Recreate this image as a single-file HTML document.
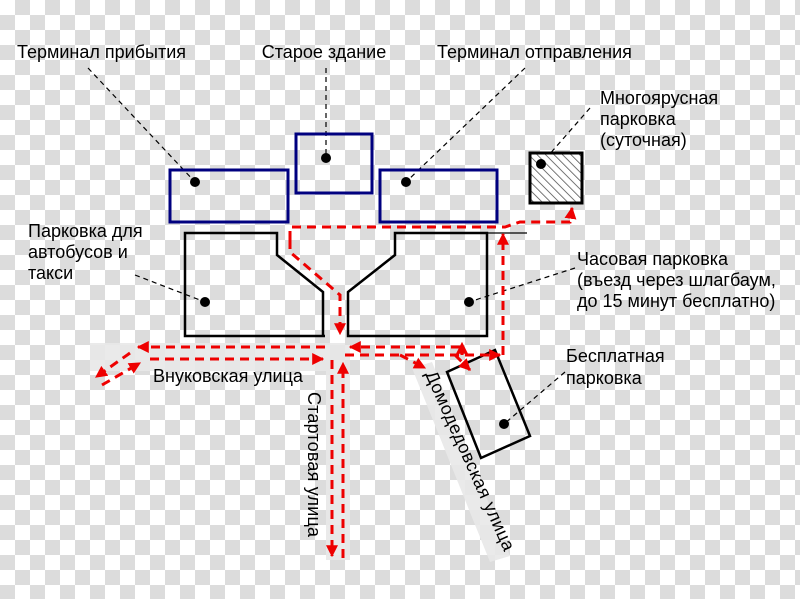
<!DOCTYPE html>
<html><head><meta charset="utf-8"><style>
html,body{margin:0;padding:0;width:800px;height:599px;overflow:hidden;}
svg{display:block;font-family:"Liberation Sans","DejaVu Sans",sans-serif;}
</style></head><body>
<svg width="800" height="599" viewBox="0 0 800 599" xmlns="http://www.w3.org/2000/svg">
<defs>
<pattern id="ck" width="30" height="30" patternUnits="userSpaceOnUse">
<rect width="30" height="30" fill="#fff"/>
<rect x="15" y="0" width="15" height="15" fill="#dcdcdc"/>
<rect x="0" y="15" width="15" height="15" fill="#dcdcdc"/>
</pattern>
<pattern id="hatch" width="6" height="6" patternUnits="userSpaceOnUse" patternTransform="rotate(-45)">
<rect width="6" height="6" fill="#fff"/>
<line x1="0" y1="0" x2="0" y2="6" stroke="#444" stroke-width="1.5"/>
</pattern>
<marker id="ar" viewBox="0 0 10 10" refX="9" refY="5" markerWidth="4" markerHeight="4" orient="auto"><path d="M0,0L10,5L0,10z" fill="#e00"/></marker>
</defs>
<rect width="800" height="599" fill="url(#ck)"/>
<g fill="#e8e8e8" opacity="0.9">
<rect x="90" y="343" width="255" height="28"/>
<rect x="326" y="345" width="24" height="215"/>
<polygon points="412,368 432,362 510,556 490,562"/>
</g>
<g stroke="#000" stroke-width="1.2" stroke-dasharray="5,4" fill="none">
<line x1="88" y1="68" x2="195" y2="182"/>
<line x1="326" y1="68" x2="326" y2="158"/>
<line x1="525" y1="68" x2="406" y2="182"/>
<line x1="590" y1="108" x2="541" y2="164"/>
<line x1="135" y1="275" x2="205" y2="302"/>
<line x1="575" y1="268" x2="469" y2="302"/>
<line x1="565" y1="372" x2="504" y2="424"/>
</g>
<g fill="none" stroke="#00007f" stroke-width="3">
<rect x="170" y="170" width="118" height="52"/>
<rect x="296" y="134" width="76" height="59"/>
<rect x="380" y="170" width="117" height="52"/>
</g>
<rect x="530" y="153" width="52" height="50" fill="url(#hatch)" stroke="#000" stroke-width="3"/>
<g fill="none" stroke="#000" stroke-width="2.5">
<path d="M325,336 L185,336 L185,233 L277,233 L277,255 L323,292 L323,336"/>
<path d="M348,336 L348,292 L395,255 L395,233 L487,233 L487,336 Z"/>
<polygon points="447,372 495,350 530,436 481,458"/>
</g>
<line x1="487" y1="233" x2="527" y2="233" stroke="#000" stroke-width="1.2"/>
<g fill="#000">
<circle cx="195" cy="182" r="5"/><circle cx="326" cy="158" r="5"/><circle cx="406" cy="182" r="5"/>
<circle cx="541" cy="164" r="5"/><circle cx="205" cy="302" r="5"/><circle cx="469" cy="302" r="5"/><circle cx="504" cy="424" r="5"/>
</g>
<g fill="none" stroke="#e00" stroke-width="3" stroke-dasharray="9,6" marker-end="url(#ar)">
<path d="M290,240 L290,227 L505,227 L520,222 L570,222 L572,208"/>
<path d="M290,240 L290,252 L340,295 L340,334"/>
<path d="M503,355 L503,234"/>
<path d="M460,347 L350,347"/>
<path d="M345,355 L500,355"/>
<path d="M325,347 L138,347"/>
<path d="M130,353 L96,377"/>
<path d="M102,385 L140,363"/>
<path d="M150,359 L323,359"/>
<path d="M332,360 L332,556"/>
<path d="M343,558 L343,363"/>
<path d="M400,355 L425,368"/>
<path d="M455,355 L470,370"/>
<path d="M462,355 L462,343"/>
</g>
<g font-size="18" fill="#000">
<text x="17" y="58">Терминал прибытия</text>
<text x="324" y="58" text-anchor="middle">Старое здание</text>
<text x="437" y="58">Терминал отправления</text>
<text x="600" y="104">Многоярусная</text>
<text x="600" y="125">парковка</text>
<text x="600" y="146">(суточная)</text>
<text x="28" y="237">Парковка для</text>
<text x="28" y="258">автобусов и</text>
<text x="28" y="279">такси</text>
<text x="577" y="265">Часовая парковка</text>
<text x="577" y="286">(въезд через шлагбаум,</text>
<text x="577" y="307">до 15 минут бесплатно)</text>
<text x="566" y="362">Бесплатная</text>
<text x="566" y="384">парковка</text>
<text x="153" y="382">Внуковская улица</text>
<text transform="translate(308,392) rotate(90)" textLength="145">Стартовая улица</text>
<text transform="translate(425,374) rotate(66)" textLength="195">Домодедовская улица</text>
</g>
</svg>
</body></html>
